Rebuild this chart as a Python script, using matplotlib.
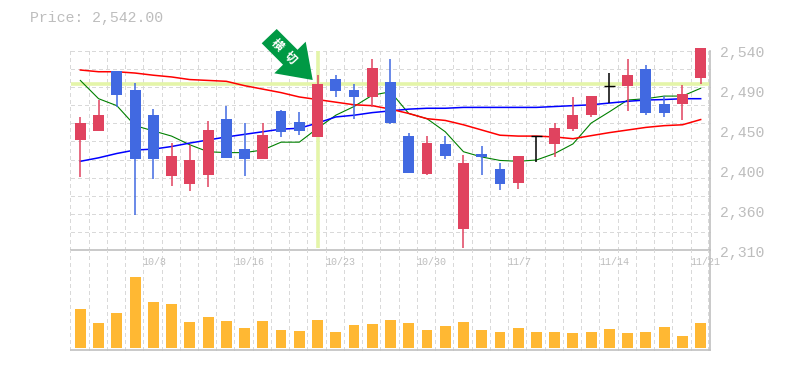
import numpy as np
import matplotlib
matplotlib.use('Agg')
import matplotlib.pyplot as plt
from matplotlib.patches import Polygon

W, H = 785, 370

# candles: high, body top, body bottom, low
highs = [2463, 2482.5, 2516, 2502, 2472, 2433, 2431, 2458, 2476, 2456, 2456, 2471, 2469, 2511, 2511, 2501, 2530, 2530,
         2444.5, 2441, 2441, 2419, 2430, 2410, 2418, 2441, 2456, 2486, 2487, 2513.5, 2530, 2523, 2487, 2500, 2542]
tops = [2456, 2465, 2516, 2494, 2465, 2418, 2413.5, 2448, 2461, 2426, 2442, 2470, 2457, 2501, 2507, 2494, 2519, 2503,
        2441, 2433, 2432, 2410, 2420, 2403, 2418, 2441, 2450, 2465, 2487, 2499, 2511, 2518, 2478, 2489, 2542]
bottoms = [2436.5, 2447, 2488, 2415, 2415, 2395, 2386, 2396, 2416, 2415, 2415, 2446, 2447, 2440, 2493, 2486, 2486, 2456,
           2398.5, 2397, 2418, 2334, 2417, 2386, 2387, 2441, 2432, 2449, 2465, 2499, 2499, 2467.5, 2467.5, 2478, 2508]
lows = [2394, 2447, 2475, 2350, 2392, 2384, 2378, 2382.5, 2416, 2395, 2415, 2440, 2442, 2440, 2486, 2461, 2474.5, 2455,
        2398.5, 2396, 2415, 2312, 2396, 2379, 2380, 2411, 2417, 2447, 2463, 2479, 2470, 2465, 2463, 2459.5, 2501]
kinds = list('rrbbbrrrbbrbbrbbrb' + 'brbrbbrkrrrkrbbrr')

ma_short = [2505, 2484, 2476, 2453, 2447, 2441, 2431, 2423, 2422, 2422, 2425, 2434, 2434, 2450, 2465, 2475, 2488, 2492,
            2467, 2461, 2446, 2423, 2417, 2413, 2412, 2413.5, 2421, 2432, 2456, 2469, 2482.5, 2484, 2487, 2487, 2496]
ma_mid = [2517, 2515, 2515, 2513.5, 2511, 2509, 2506, 2505, 2504, 2499, 2495, 2491, 2486, 2483, 2480, 2477, 2476, 2472,
          2467, 2461, 2459, 2454, 2448, 2442, 2441, 2441, 2440, 2438, 2441.5, 2445, 2448, 2451, 2453, 2454, 2460]
ma_long = [2412, 2416, 2421, 2425, 2426, 2429, 2433, 2436.5, 2440, 2443, 2446, 2449, 2450, 2456, 2463, 2465, 2468, 2470,
           2472, 2473, 2473, 2474, 2474, 2474, 2474, 2474, 2475, 2476, 2477, 2479, 2481, 2482.5, 2483, 2484, 2484]
volumes = [39, 25, 35, 71, 46, 44, 26, 31, 27, 20, 27, 18, 17, 28, 16, 23, 24, 28,
           25, 18, 22, 26, 18, 16, 20, 16, 16, 15, 16, 19, 15, 16, 21, 12, 25]

date_idx = [4, 9, 14, 19, 24, 29, 34]
date_labels = ['10/8', '10/16', '10/23', '10/30', '11/7', '11/14', '11/21']
price_labels = ['2,540', '2,490', '2,450', '2,400', '2,360', '2,310']
price_label_pos = [2538.85, 2493, 2447, 2401, 2355, 2310]

signal_idx = 13
signal_price = 2500.5

GRID = '#d9d9d9'
AXIS = '#c0c0c0'
TXT = '#bdbdbd'
RED = '#e0435f'
BLUE = '#4169e1'
MONO = 'Liberation Mono'
CJK = ['Noto Sans CJK JP', 'DejaVu Sans']

fig = plt.figure(figsize=(W / 100, H / 100), dpi=100)


def make_axes(x0, y0, x1, y1):
    return fig.add_axes([x0 / W, 1 - y1 / H, (x1 - x0) / W, (y1 - y0) / H])


ax = make_axes(71.2, 51, 709.8, 250)
vax = make_axes(71.2, 250, 709.8, 350)
x = np.arange(len(highs))

for a in (ax, vax):
    a.set_xlim(-0.5, len(highs) - 0.5)
    a.set_xticks([])
    a.set_yticks([])
    a.patch.set_alpha(0)
    for s in a.spines.values():
        s.set_visible(False)
    for side in ('right', 'bottom'):
        a.spines[side].set_visible(True)
        a.spines[side].set_color(AXIS)
        a.spines[side].set_linewidth(1.2)
    for g in list(x - 0.55) + [x[-1] + 0.4]:
        a.axvline(g, color=GRID, lw=1, ls=(0, (2.5, 2.5)), zorder=0, antialiased=False, clip_on=False)

ax.set_ylim(2310, 2538.85)
vax.set_ylim(-2, 98)

for g in np.linspace(2310, 2538.85, 12)[1:]:
    ax.axhline(g, color=GRID, lw=1, ls=(0, (2.5, 2.5)), zorder=0, antialiased=False, clip_on=False)

# signal cross
ax.axhline(signal_price, color='#e4f5a9', lw=2.6, zorder=1)
ax.plot([signal_idx, signal_idx], [2312, 2538.85], color='#e4f5a9', lw=2.6, zorder=1, solid_capstyle='butt')

ax.plot(x, ma_short, color='#008000', lw=0.8, zorder=2)
ax.plot(x, ma_long, color='#0000ff', lw=1.1, zorder=2)
ax.plot(x, ma_mid, color='#ff0000', lw=1.1, zorder=2)

colors = {'r': RED, 'b': BLUE, 'k': '#000000'}
for i in x:
    c = colors[kinds[i]]
    ax.plot([i, i], [lows[i], highs[i]], color=c, lw=1.1, zorder=3, clip_on=False, solid_capstyle='butt')
    if kinds[i] == 'k':
        ax.plot([i - 0.3, i + 0.3], [tops[i], tops[i]], color=c, lw=1.0, zorder=3, solid_capstyle='butt')
    else:
        ax.bar(i, tops[i] - bottoms[i], bottom=bottoms[i], width=0.6, color=c, zorder=4, clip_on=False, antialiased=False)

vax.bar(x, volumes, width=0.6, color='#ffb833', zorder=3, antialiased=False)

for i, lab in zip(date_idx, date_labels):
    vax.annotate(lab, (i, 1), xycoords=('data', 'axes fraction'), xytext=(-7.6, -8.6), textcoords='offset points',
                 ha='left', va='center', fontsize=7.2, family=MONO, color=TXT, zorder=5, annotation_clip=False)

for p, lab in zip(price_label_pos, price_labels):
    ax.annotate(lab, (1, p), xycoords=('axes fraction', 'data'), xytext=(7.2, -1.8), textcoords='offset points',
                ha='left', va='center', fontsize=10.7, family=MONO, color=TXT, annotation_clip=False)

fig.text(30 / W, 1 - 18 / H, 'Price: 2,542.00', fontsize=10.7, family=MONO, color=TXT, ha='left', va='center')

# signal arrow, corners given in pixels from the top left
arrow_px = np.array([[276.7, 29], [297.5, 49.8], [305.7, 41.7], [312.7, 80], [274.3, 73.3], [283, 64.7], [261.7, 43.3]])
arrow_fig = np.column_stack([arrow_px[:, 0] / W, 1 - arrow_px[:, 1] / H])
fig.add_artist(Polygon(arrow_fig, closed=True, transform=fig.transFigure, facecolor='#009944', edgecolor='none', zorder=6))
for ch, px, py in zip('横切', [276.7, 290], [45, 57.5]):
    fig.text(px / W, 1 - py / H, ch, fontsize=8.5, family=CJK, fontweight='bold', color='white',
             rotation=-45, rotation_mode='anchor', ha='center', va='center', zorder=7)

fig.savefig('out.png', dpi=100)
